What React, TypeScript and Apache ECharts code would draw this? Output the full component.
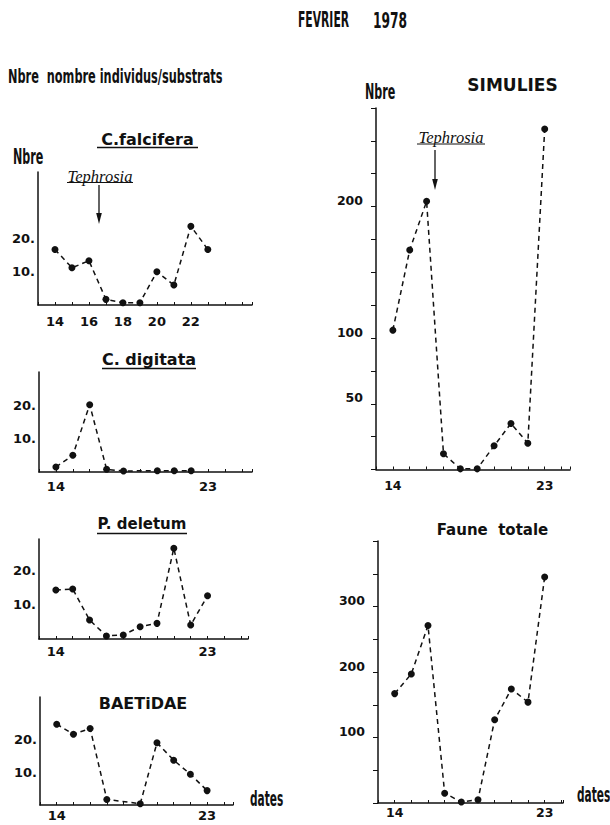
import React, { useEffect, useRef } from 'react';
import * as echarts from 'echarts';

// ---- data ----
const days = [14, 15, 16, 17, 18, 19, 20, 21, 22, 23];
const falciferaValues = [16.7, 11.2, 13.3, 1.7, 0.7, 0.7, 10, 6, 23.7, 16.7];
const digitataDays = [14, 15, 16, 17, 18, 20, 21, 22];
const digitataValues = [1.5, 5, 20.2, 0.8, 0.3, 0.4, 0.4, 0.4];
const deletumValues = [14.4, 14.7, 5.6, 0.9, 1.2, 3.6, 4.6, 26.7, 4.1, 12.7];
const baetidaeDays = [14, 15, 16, 17, 19, 20, 21, 22, 23];
const baetidaeValues = [24.7, 21.6, 23.4, 1.7, 0.4, 19, 13.7, 9.4, 4.4];
const simuliesValues = [106, 167, 204, 12, 0.5, 0.5, 18, 35, 20, 259];
const fauneValues = [167, 197, 271, 15, 1.5, 5, 127, 174, 154, 345];

const falciferaDayLabels = [14, 16, 18, 20, 22];
const dayLabels = [14, 23];
const smallTickLabels = [10, 20];
const simuliesTickLabels = [50, 100, 200];
const fauneTickLabels = [100, 200, 300];

const INK = '#111';
const SANS = "'DejaVu Sans', sans-serif";
const NARROW = "'Liberation Sans Narrow', 'DejaVu Sans Condensed', 'Liberation Sans', sans-serif";
const SERIF = "'Liberation Serif', 'DejaVu Serif', serif";

const pairs = (xs: number[], ys: number[]) => xs.map((x, i) => [x, ys[i]]);

type Panel = {
  data: number[][];
  left: number; top: number; width: number; height: number;
  xMax: number; yMax: number; yInterval: number;
  xLabels: number[]; yLabels: number[]; xMargin: number; right: boolean;
};

const panels: Panel[] = [
  { data: pairs(days, falciferaValues), left: 38, top: 172, width: 214, height: 133, xMax: 25.6, yMax: 40, yInterval: 10, xLabels: falciferaDayLabels, yLabels: smallTickLabels, xMargin: 10, right: false },
  { data: pairs(digitataDays, digitataValues), left: 39, top: 372, width: 213, height: 100, xMax: 25.6, yMax: 30, yInterval: 10, xLabels: dayLabels, yLabels: smallTickLabels, xMargin: 8, right: false },
  { data: pairs(days, deletumValues), left: 39, top: 539, width: 209, height: 100, xMax: 25.4, yMax: 29.4, yInterval: 10, xLabels: dayLabels, yLabels: smallTickLabels, xMargin: 6, right: false },
  { data: pairs(baetidaeDays, baetidaeValues), left: 40, top: 697, width: 193, height: 108, xMax: 24.55, yMax: 33, yInterval: 10, xLabels: dayLabels, yLabels: smallTickLabels, xMargin: 4, right: false },
  { data: pairs(days, simuliesValues), left: 376, top: 108, width: 194, height: 361.5, xMax: 24.5, yMax: 275, yInterval: 25, xLabels: dayLabels, yLabels: simuliesTickLabels, xMargin: 9, right: true },
  { data: pairs(days, fauneValues), left: 378, top: 541, width: 185, height: 262, xMax: 24.1, yMax: 400, yInterval: 50, xLabels: dayLabels, yLabels: fauneTickLabels, xMargin: 3, right: true },
];

function txt(text: string, x: number, y: number, o: any = {}) {
  const align = o.align || 'left';
  return {
    type: 'text', x, y, scaleX: o.scaleX || 1,
    style: {
      text, fill: INK,
      fontFamily: o.fontFamily || SANS, fontSize: o.fontSize || 14,
      fontWeight: o.fontWeight || 'normal', fontStyle: o.fontStyle || 'normal',
      align, textAlign: align, verticalAlign: 'middle', textVerticalAlign: 'middle',
    },
  };
}
function ln(x1: number, y1: number, x2: number, y2: number, w = 1.2) {
  return { type: 'line', shape: { x1, y1, x2, y2 }, style: { stroke: INK, lineWidth: w } };
}
function arrow(x: number, y1: number, y2: number) {
  return [
    ln(x, y1, x, y2 - 6, 1.3),
    { type: 'polygon', shape: { points: [[x - 2.8, y2 - 11], [x + 2.8, y2 - 11], [x, y2]] }, style: { fill: INK } },
  ];
}

export default function App() {
  const ref = useRef<HTMLDivElement>(null);
  useEffect(() => {
    document.body.style.margin = '0';
    const chart = echarts.init(ref.current!, undefined, { renderer: 'svg' });

    const grid = panels.map(p => ({ left: p.left, top: p.top, width: p.width, height: p.height, containLabel: false }));
    const xAxis = panels.map((p, i) => ({
      type: 'value', gridIndex: i, min: 13, max: p.xMax, interval: 1,
      axisLine: { show: true, lineStyle: { color: INK, width: 1.5 } },
      axisTick: { show: true, inside: true, length: 3, lineStyle: { color: INK, width: 1 } },
      splitLine: { show: false },
      axisLabel: {
        margin: p.xMargin, color: INK, fontFamily: SANS, fontWeight: 'bold', fontSize: p.right ? 12.5 : 13,
        formatter: (v: number) => (p.xLabels.indexOf(v) >= 0 ? String(v) : ''),
      },
    }));
    const yAxis = panels.map((p, i) => ({
      type: 'value', gridIndex: i, min: 0, max: p.yMax, interval: p.yInterval,
      axisLine: { show: true, lineStyle: { color: INK, width: 1.5 } },
      axisTick: { show: p.right, inside: false, length: 5, lineStyle: { color: INK, width: 1 } },
      splitLine: { show: false },
      axisLabel: p.right
        ? {
            margin: 13, color: INK, fontFamily: SANS, fontWeight: 'bold', fontSize: 12.5,
            verticalAlign: 'bottom', lineHeight: 12,
            formatter: (v: number) => (p.yLabels.indexOf(v) >= 0 ? String(v) : ''),
          }
        : {
            margin: 3, color: INK, fontFamily: SANS, fontWeight: 'bold', fontSize: 13,
            formatter: (v: number) => (p.yLabels.indexOf(v) >= 0 ? v + '.' : ''),
          },
    }));
    const series = panels.map((p, i) => ({
      type: 'line', xAxisIndex: i, yAxisIndex: i, data: p.data,
      symbol: 'circle', symbolSize: 7, showSymbol: true,
      itemStyle: { color: INK },
      lineStyle: { color: INK, width: 1.5, type: [5, 4] },
      connectNulls: true,
    }));

    const graphic: any[] = [
      txt('FEVRIER', 298, 20, { fontFamily: NARROW, fontSize: 22, fontWeight: 'bold', scaleX: 0.545 }),
      txt('1978', 373, 20, { fontFamily: NARROW, fontSize: 22, fontWeight: 'bold', scaleX: 0.62 }),
      txt('Nbre  nombre individus/substrats', 8, 76, { fontFamily: NARROW, fontSize: 20, fontWeight: 'bold', scaleX: 0.63 }),
      txt('Nbre', 13, 157, { fontFamily: NARROW, fontSize: 21, fontWeight: 'bold', scaleX: 0.59 }),
      txt('Nbre', 365, 92, { fontFamily: NARROW, fontSize: 21, fontWeight: 'bold', scaleX: 0.59 }),
      txt('dates', 250, 799, { fontFamily: NARROW, fontSize: 21, fontWeight: 'bold', scaleX: 0.56 }),
      txt('dates', 577, 795, { fontFamily: NARROW, fontSize: 21, fontWeight: 'bold', scaleX: 0.56 }),

      txt('C.falcifera', 147.5, 139, { fontSize: 16, fontWeight: 'bold', align: 'center' }),
      ln(97, 147.5, 198, 147.5, 1.3),
      txt('C. digitata', 149, 359, { fontSize: 16, fontWeight: 'bold', align: 'center' }),
      ln(102, 368.5, 196, 368.5, 1.3),
      txt('P. deletum', 142, 524, { fontSize: 15, fontWeight: 'bold', align: 'center' }),
      ln(97, 533.5, 187, 533.5, 1.3),
      txt('BAETiDAE', 143, 703, { fontSize: 16, fontWeight: 'bold', align: 'center' }),
      txt('SIMULIES', 512.5, 85, { fontSize: 17, fontWeight: 'bold', align: 'center' }),
      txt('Faune  totale', 492.5, 530, { fontSize: 15, fontWeight: 'bold', align: 'center' }),

      txt('Tephrosia', 100, 176, { fontFamily: SERIF, fontSize: 16.5, fontStyle: 'italic', align: 'center' }),
      ln(67, 182.5, 133, 182.5, 1),
      ...arrow(99, 185, 224),
      txt('Tephrosia', 451, 137, { fontFamily: SERIF, fontSize: 16.5, fontStyle: 'italic', align: 'center' }),
      ln(417, 144, 485, 144, 1),
      ...arrow(435, 150, 190),
    ];

    chart.setOption({
      animation: false,
      backgroundColor: '#fff',
      grid, xAxis, yAxis, series, graphic,
    } as any);
    return () => chart.dispose();
  }, []);
  return <div ref={ref} style={{ width: 610, height: 825 }} />;
}
